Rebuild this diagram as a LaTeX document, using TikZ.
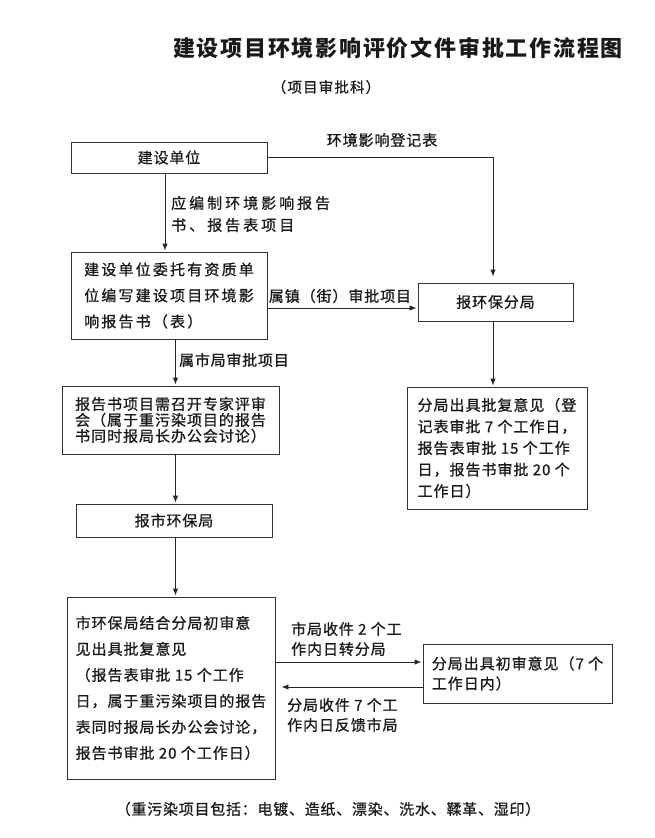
\documentclass[tikz,border=0pt]{standalone}
\usepackage{fontspec}
\setmainfont{Noto Sans CJK SC}
\usetikzlibrary{arrows.meta,calc}
\newcommand\myfs[3]{\fontsize{#1}{#2}\selectfont\addfontfeature{LetterSpace=#3,FakeBold=0.8}}
\begin{document}
\begin{tikzpicture}[x=1pt,y=-1pt,
  box/.style={draw=black!80,line width=0.9pt,inner sep=0pt,align=left,text=black!90},
  lbl/.style={inner sep=0pt,align=left,text=black!90},
  arr/.style={draw=black!85,line width=0.9pt,-{Latex[length=7pt,width=5.5pt]},shorten >=1pt}]
\fill[white] (0,0) rectangle (655,838);
\useasboundingbox (0,0) rectangle (655,838);

% title
\node[lbl,font={\fontsize{22}{26}\selectfont\bfseries\addfontfeature{LetterSpace=8}}] (title) at (398,48) {建设项目环境影响评价文件审批工作流程图};
\node[lbl,font={\myfs{14.5}{18}{8}}] (sub) at (326,87) {（项目审批科）};

% boxes
\node[box,minimum width=196,minimum height=31,font={\myfs{15}{20}{6}}] (jsdw) at (169,157.5) {建设单位};
\node[box,minimum width=196,minimum height=87,font={\myfs{15}{26}{14.5}}] (wt) at (169,295.5)
  {建设单位委托有资质单\\位编写建设项目环境影\\响报告书（表）};
\node[box,minimum width=155,minimum height=38,font={\myfs{15}{20}{6}}] (hbfj) at (495.5,302) {报环保分局};
\node[box,minimum width=180,minimum height=122,font={\myfs{15}{21.5}{6.5}}] (fjpf) at (497,448)
  {分局出具批复意见（登\\记表审批 7 个工作日，\\报告表审批 15 个工作\\日，报告书审批 20 个\\工作日）};
\node[box,minimum width=217,minimum height=68,font={\myfs{15}{16}{6.5}}] (bgs) at (170.5,420)
  {报告书项目需召开专家评审\\会（属于重污染项目的报告\\书同时报局长办公会讨论）};
\node[box,minimum width=196,minimum height=33,font={\myfs{15}{20}{6}}] (bshb) at (174,520.5) {报市环保局};
\node[box,minimum width=208,minimum height=182,font={\myfs{15}{26}{6.5}}] (shb) at (171,688)
  {市环保局结合分局初审意\\见出具批复意见\\（报告表审批 15 个工作\\日，属于重污染项目的报告\\表同时报局长办公会讨论，\\报告书审批 20 个工作日）};
\node[box,minimum width=189,minimum height=59,font={\myfs{15}{20}{6.5}}] (fjcs) at (517.5,673.5)
  {分局出具初审意见（7 个\\工作日内）};

% labels
\node[lbl,font={\myfs{15}{16}{6}}] (lb2) at (382,140) {环境影响登记表};
\node[lbl,anchor=west,font={\myfs{15}{22}{20}}] (lb1) at (171,214) {应编制环境影响报告\\书、报告表项目};
\node[lbl,font={\myfs{15}{16}{6}}] (lb3) at (340,296) {属镇（街）审批项目};
\node[lbl,anchor=west,font={\myfs{15}{16}{5}}] (lb4) at (179,360) {属市局审批项目};
\node[lbl,anchor=west,font={\myfs{15}{20}{6}}] (lb5) at (291,639) {市局收件 2 个工\\作内日转分局};
\node[lbl,anchor=west,font={\myfs{15}{20}{6}}] (lb6) at (287,715) {分局收件 7 个工\\作内日反馈市局};
\node[lbl,font={\myfs{15}{18}{5}}] (foot) at (328,809) {（重污染项目包括：电镀、造纸、漂染、洗水、鞣革、湿印）};

% connectors
\coordinate (vx) at (175.5,0);
\draw[arr,shorten >=6pt] (jsdw.east) -| ([xshift=-2.5pt]hbfj.north);
\draw[arr] ([xshift=-4pt]jsdw.south) -- ([xshift=-4pt]wt.north);
\coordinate (a1) at ([yshift=-12.5pt]wt.east);
\draw[arr] (a1) -- (a1 -| hbfj.west);
\draw[arr] ([xshift=-2.5pt]hbfj.south) -- ([xshift=-2.5pt]hbfj.south |- fjpf.north);
\draw[arr] (wt.south -| vx) -- (bgs.north -| vx);
\draw[arr] (bgs.south -| vx) -- (bshb.north -| vx);
\draw[arr] (bshb.south -| vx) -- (shb.north -| vx);
\coordinate (a2) at ([yshift=11.5pt]fjcs.west);
\draw[arr] (a2 -| shb.east) -- (a2);
\coordinate (a3) at ([yshift=-13.5pt]fjcs.west);
\coordinate (a3e) at ([xshift=5pt]a3 -| shb.east);
\draw[arr] (a3) -- (a3e);
\end{tikzpicture}
\end{document}
